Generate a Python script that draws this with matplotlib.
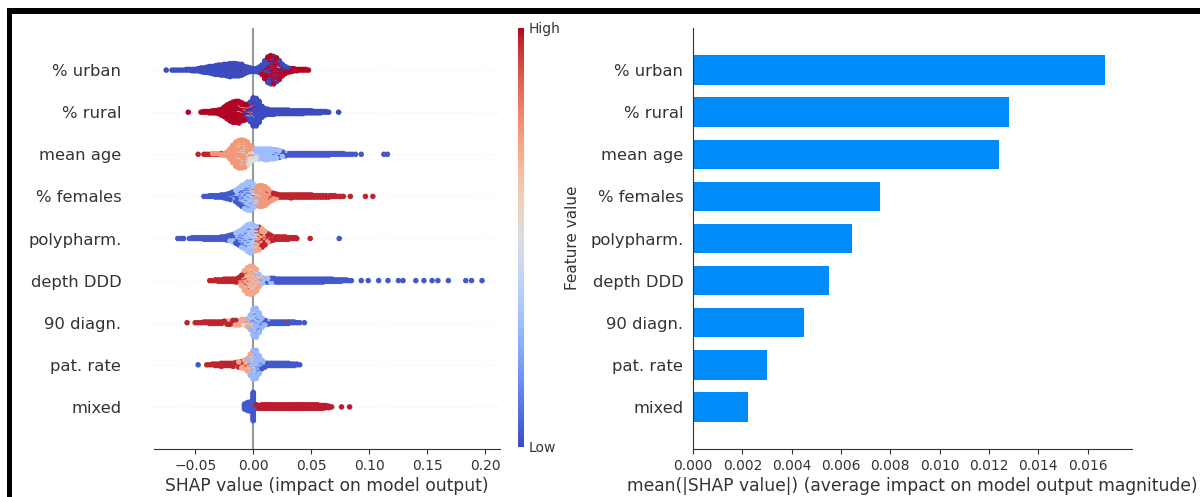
import numpy as np
import matplotlib
matplotlib.use("Agg")
import matplotlib.pyplot as plt
from matplotlib.patches import Rectangle
from matplotlib.cm import ScalarMappable
from matplotlib.colors import Normalize

# ---------------------------------------------------------------- data
features = ["% urban", "% rural", "mean age", "% females", "polypharm.",
            "depth DDD", "90 diagn.", "pat. rate", "mixed"]
mean_abs_shap = [0.01670, 0.01283, 0.0124, 0.00757, 0.00644,
                 0.0055, 0.0045, 0.0030, 0.00223]
left_ticks = [-0.05, 0.0, 0.05, 0.10, 0.15, 0.20]
right_ticks = [0.000, 0.002, 0.004, 0.006, 0.008, 0.010, 0.012, 0.014, 0.016]

BIN = 0.0025  # SHAP-value bin width of the histograms

# each layer: (feature value 0..1, SHAP value of first bin, points per bin)
urban_layers = [
    (0.0, -0.075, [1, 0, 1, 1, 1, 1, 1, 2, 2, 3, 3, 4, 6, 7, 8, 10, 11, 13, 14, 15,
                   16, 17, 18, 18, 18, 17, 15, 11, 8, 6, 5, 5, 7, 10, 14, 16, 15, 13,
                   11, 8, 5, 3, 2, 1, 1]),
    (1.0, 0.005, [1, 4, 12, 20, 25, 26, 23, 18, 12, 8, 5, 4, 3, 3, 2, 2, 2, 1]),
]
urban_single = [(-0.021, 1.0), (-0.011, 1.0), (0.0225, 0.55)]

rural_layers = [
    (1.0, -0.045, [1, 2, 2, 3, 4, 4, 6, 9, 14, 20, 25, 29, 30, 28, 22, 16, 10, 5, 3, 1]),
    (0.62, -0.0125, [2, 2, 2, 2, 1]),
    (0.35, -0.0075, [1, 2, 2, 1]),
    (0.0, -0.0125, [1, 2, 4, 8, 20, 36, 38, 30, 16, 10, 8, 7, 7, 6, 6, 6, 6, 6, 5, 5,
                    5, 5, 5, 4, 4, 4, 3, 3, 3, 2, 2, 1]),
]
rural_single = [(-0.056, 1.0), (0.0735, 0.0)]

age_layers = [
    (0.97, -0.0475, [1, 0, 1, 1, 1, 1, 1, 1, 1]),
    (0.75, -0.035, [1, 1, 1, 2, 3, 6, 14, 24, 30, 32, 32, 30, 24, 12, 4]),
    (0.5, -0.015, [3, 5, 6, 6, 8, 10, 10, 6, 2]),
    (0.3, 0.0, [3, 8, 12, 14, 15, 15, 14, 12, 10, 7, 4, 2]),
    (0.03, 0.0175, [1, 2, 3, 3, 3, 3, 3, 3, 3, 3, 3, 3, 3, 3, 3, 3, 3, 3, 3, 3,
                    2, 2, 2, 2, 2, 1, 1, 1]),
]
age_single = [(0.088, 0.03), (0.093, 0.03), (0.1125, 0.03), (0.1155, 0.03)]

females_layers = [
    (0.03, -0.0425, [1, 1, 2, 2, 3, 3, 4, 5, 6, 7, 8, 8, 8, 8, 7, 6, 4, 2]),
    (0.3, -0.0225, [1, 2, 4, 8, 14, 20, 26, 30, 30, 22, 8, 2]),
    (0.5, -0.005, [2, 3, 4, 4, 2]),
    (0.75, -0.0025, [1, 4, 14, 24, 28, 26, 18, 10, 5, 2]),
    (0.97, 0.0125, [2, 3, 4, 4, 4, 4, 4, 4, 4, 4, 4, 4, 4, 4, 4, 4, 3, 3, 3, 3, 3,
                    2, 2, 2, 1, 1, 1]),
]
females_single = [(0.0836, 0.97), (0.0966, 0.97), (0.103, 0.97), (0.032, 0.03), (0.066, 0.03)]

poly_layers = [
    (0.03, -0.065, [1, 1, 1, 0, 1, 2, 2, 2, 2, 3, 3, 3, 3, 3, 3, 4, 4, 5, 6, 6, 6, 6,
                    5, 4, 3, 2]),
    (0.3, -0.0225, [1, 2, 4, 8, 12, 18, 24, 28, 30, 24, 10, 3]),
    (0.5, -0.005, [3, 5, 7, 5, 2]),
    (0.72, 0.0, [3, 12, 16, 14, 10, 5, 2]),
    (0.97, 0.0025, [4, 8, 10, 8, 7, 6, 5, 4, 4, 4, 4, 3, 2, 2, 1]),
]
poly_single = [(0.0365, 0.97), (0.049, 0.97), (0.074, 0.03)]

depth_layers = [
    (0.97, -0.0375, [1, 1, 2, 3, 3, 4, 4, 4, 4, 5, 5, 5, 4, 2]),
    (0.72, -0.0125, [3, 10, 20, 28, 30, 28, 22, 10, 3]),
    (0.5, -0.0075, [3, 5, 6, 6, 5, 3]),
    (0.3, -0.0025, [2, 2, 3, 4, 5, 5, 4, 3, 2, 1]),
    (0.03, 0.0075, [1, 1, 2, 3, 4, 4, 5, 5, 5, 5, 5, 5, 5, 5, 5, 5, 5, 5, 5, 5, 5, 5,
                    4, 4, 4, 3, 3, 3, 2, 2, 1]),
]
depth_single = [(x, 0.03) for x in [0.0845, 0.093, 0.099, 0.108, 0.116, 0.125, 0.129, 0.140,
                                    0.147, 0.154, 0.159, 0.168, 0.183, 0.188, 0.197]]

diagn_layers = [
    (0.97, -0.0475, [1, 1, 2, 2, 3, 3, 3, 3, 3, 3, 3, 3, 3, 3, 2, 2, 2, 1, 1]),
    (0.72, -0.025, [1, 2, 2, 2, 3, 3, 4, 4, 4, 3, 2]),
    (0.5, -0.0175, [1, 1, 2, 2, 2, 3, 4, 4, 2]),
    (0.28, -0.005, [3, 12, 28, 34, 24, 10, 4, 2]),
    (0.03, 0.0, [2, 3, 3, 3, 3, 3, 3, 3, 3, 3, 3, 3, 2, 2, 2, 1]),
]
diagn_single = [(-0.057, 0.97), (-0.050, 0.97), (0.030, 0.97), (0.040, 0.03), (0.044, 0.03)]

patrate_layers = [
    (0.97, -0.040, [1, 1, 2, 3, 3, 4, 4, 4, 4, 4, 4, 4, 3, 2, 1]),
    (0.72, -0.0175, [1, 2, 4, 6, 8, 9, 7, 3]),
    (0.5, -0.0075, [2, 3, 4, 4, 2]),
    (0.28, -0.005, [4, 18, 32, 34, 22, 8, 3]),
    (0.03, 0.0025, [2, 3, 4, 4, 4, 4, 4, 4, 4, 4, 4, 4, 3, 3, 2, 1]),
]
patrate_single = [(-0.0475, 0.03), (-0.027, 0.03)]

mixed_layers = [
    (0.03, -0.0075, [8, 12, 14, 40, 2]),
    (0.98, 0.0025, [4, 5, 6, 6, 6, 6, 6, 6, 6, 6, 6, 6, 6, 6, 6, 6, 6, 6, 6, 6, 6, 6,
                    5, 5, 4, 3, 1]),
]
mixed_single = [(0.076, 0.98), (0.083, 0.98)]

swarm_data = [
    (urban_layers, urban_single), (rural_layers, rural_single),
    (age_layers, age_single), (females_layers, females_single),
    (poly_layers, poly_single), (depth_layers, depth_single),
    (diagn_layers, diagn_single), (patrate_layers, patrate_single),
    (mixed_layers, mixed_single),
]

# ---------------------------------------------------------------- helpers
def expand(layers, singles):
    xs, cs, keys = [], [], []
    for fv, start, counts in layers:
        for j, c in enumerate(counts):
            for k in range(c):
                xs.append(start + j * BIN)
                cs.append(fv)
                keys.append((k + 0.5) / c)
    for x, fv in singles:
        xs.append(x)
        cs.append(fv)
        keys.append(0.5)
    return np.array(xs), np.array(cs), np.array(keys)


def swarm_offsets(xs, keys, row_height=0.4):
    quant = np.round(xs / BIN).astype(int)
    inds = np.lexsort((keys, quant))
    ys = np.zeros(len(xs))
    layer, last = 0, None
    for ind in inds:
        if quant[ind] != last:
            layer = 0
        ys[ind] = np.ceil(layer / 2) * ((layer % 2) * 2 - 1)
        layer += 1
        last = quant[ind]
    ys *= 0.9 * (row_height / np.max(ys + 1))
    return ys


# ---------------------------------------------------------------- figure
W, H = 1200, 497
fig = plt.figure(figsize=(W / 100, H / 100), dpi=100)
axis_color = "#333333"
cmap = "coolwarm"
n = len(features)
FS_LABEL = 11.8
FS_XLABEL = 12.3
FS_TICK = 10

ax1 = fig.add_axes([154 / W, 1 - 449 / H, 346 / W, 421 / H])
for i, (layers, singles) in enumerate(swarm_data):
    pos = n - 1 - i
    ax1.axhline(pos, color="#cccccc", lw=0.5, dashes=(1, 5), zorder=-1)
    xs, cs, keys = expand(layers, singles)
    ys = swarm_offsets(xs, keys)
    order = np.argsort(keys, kind="stable")
    ax1.scatter(xs[order], pos + ys[order], c=cs[order], cmap=cmap, vmin=0, vmax=1,
                s=16, linewidth=0, alpha=1, zorder=3, rasterized=True)
ax1.axvline(0, color="#999999", zorder=-1)
ax1.set_xlim(-0.0855, 0.2125)
ax1.set_ylim(-1, n)
ax1.set_xticks(left_ticks)
ax1.set_yticks(range(n))
ax1.set_yticklabels(features[::-1], fontsize=FS_LABEL)
ax1.xaxis.set_ticks_position("bottom")
ax1.yaxis.set_ticks_position("none")
for s in ["right", "top", "left"]:
    ax1.spines[s].set_visible(False)
ax1.spines["bottom"].set_color(axis_color)
ax1.tick_params(color=axis_color, labelcolor=axis_color)
ax1.tick_params("y", length=20, width=0.5, which="major")
ax1.tick_params("x", labelsize=FS_TICK)
ax1.set_xlabel("SHAP value (impact on model output)", fontsize=FS_XLABEL,
               color=axis_color, labelpad=3)

# colour bar
cax = fig.add_axes([518 / W, 1 - 447 / H, 6 / W, 419 / H])
sm = ScalarMappable(cmap=cmap, norm=Normalize(0, 1))
cb = fig.colorbar(sm, cax=cax, ticks=[0, 1])
cb.set_ticklabels(["Low", "High"])
cb.set_label("Feature value", size=11, labelpad=3, color=axis_color)
cb.ax.tick_params(labelsize=FS_TICK, length=0, labelcolor=axis_color)
cb.outline.set_visible(False)

# bar chart
ax2 = fig.add_axes([693 / W, 1 - 449 / H, 439 / W, 421 / H])
ypos = np.arange(n)[::-1]
ax2.barh(ypos, mean_abs_shap, 0.7, align="center", color="#008bfb")
ax2.set_ylim(-1, n)
ax2.set_yticks(ypos)
ax2.set_yticklabels(features, fontsize=FS_LABEL)
ax2.set_xticks(right_ticks)
ax2.set_xticklabels([f"{t:.3f}" for t in right_ticks])
ax2.set_xlim(0, 0.0178)
ax2.xaxis.set_ticks_position("bottom")
ax2.yaxis.set_ticks_position("none")
for s in ["right", "top"]:
    ax2.spines[s].set_visible(False)
ax2.spines["bottom"].set_color(axis_color)
ax2.spines["left"].set_color(axis_color)
ax2.tick_params(color=axis_color, labelcolor=axis_color)
ax2.tick_params("x", labelsize=FS_TICK)
ax2.set_xlabel("mean(|SHAP value|) (average impact on model output magnitude)",
               fontsize=FS_XLABEL, color=axis_color, labelpad=3)

# black frame at top and left of the screenshot
fig.add_artist(Rectangle((7 / W, 1 - 14 / H), 1 - 7 / W, 6 / H,
                         transform=fig.transFigure, color="black", lw=0))
fig.add_artist(Rectangle((7 / W, 0), 5 / W, 1 - 8 / H,
                         transform=fig.transFigure, color="black", lw=0))

fig.savefig("out.png", dpi=100)
